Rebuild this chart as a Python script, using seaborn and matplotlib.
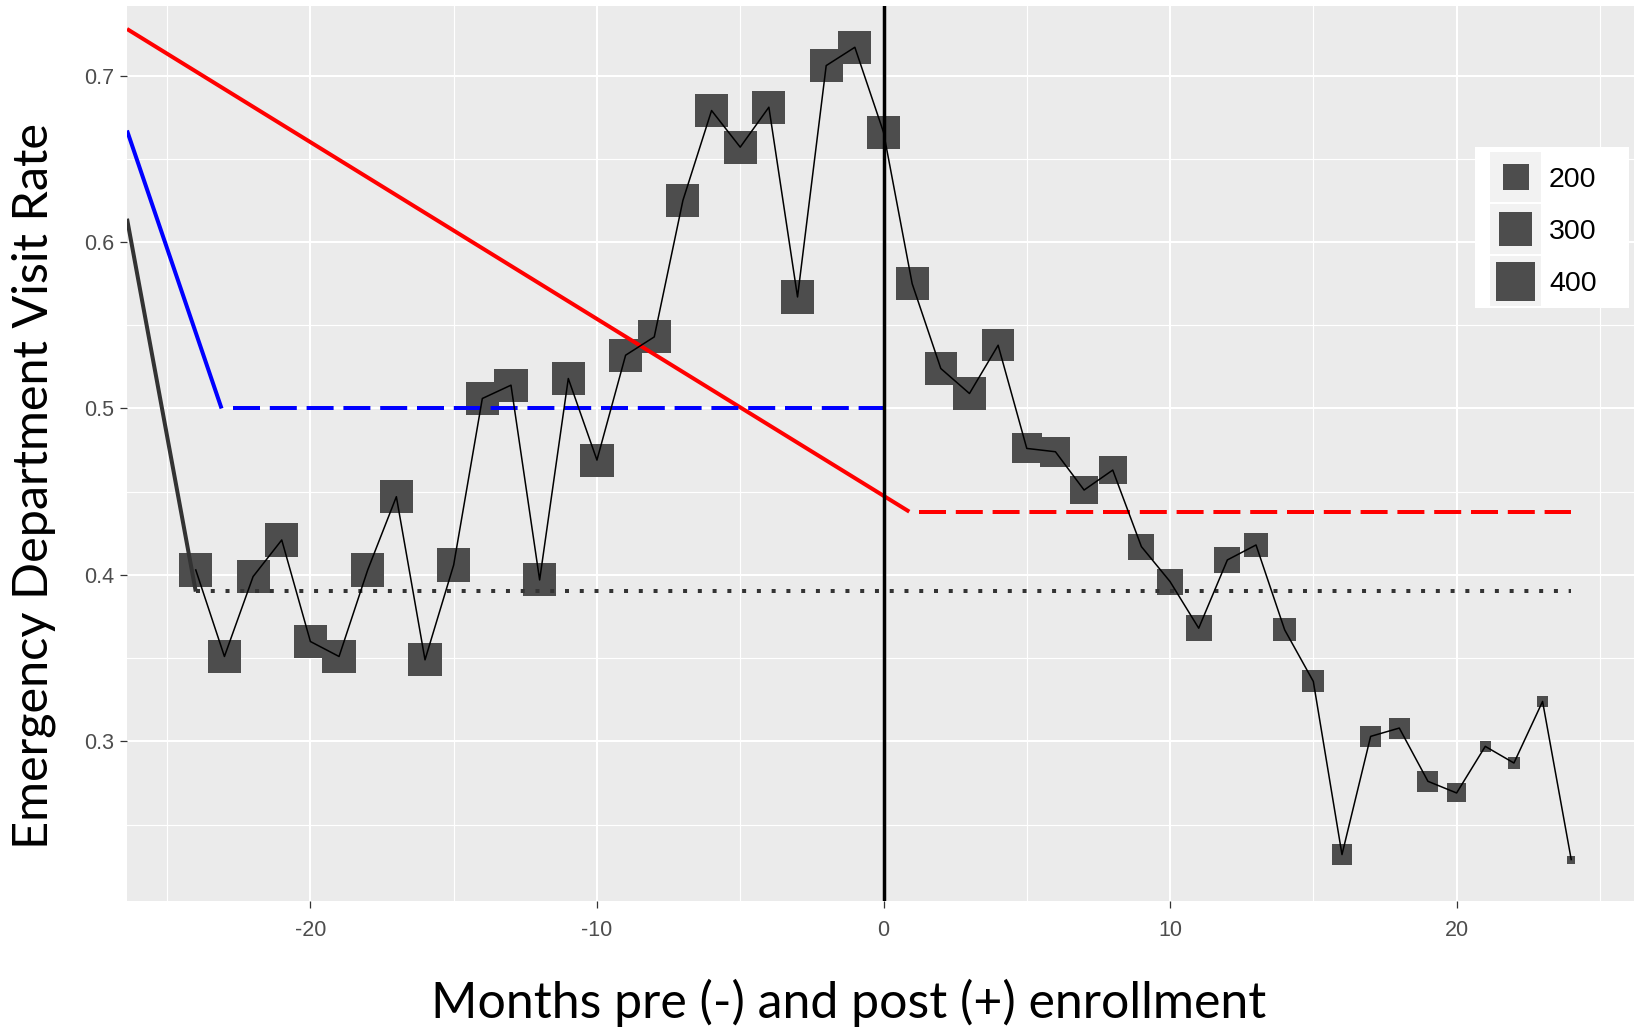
import matplotlib
matplotlib.use("Agg")
import matplotlib.pyplot as plt
import seaborn as sns
import pandas as pd
from matplotlib.patches import Rectangle
from matplotlib.ticker import MultipleLocator, FixedLocator

# ---------------- data ----------------
months = list(range(-24, 25))
visit_rate = [0.403, 0.351, 0.399, 0.421, 0.360, 0.351, 0.403, 0.447, 0.349, 0.406,
              0.506, 0.514, 0.397, 0.518, 0.469, 0.532, 0.543, 0.625, 0.679, 0.657,
              0.681, 0.567, 0.706, 0.717, 0.666, 0.575, 0.524, 0.509, 0.538, 0.476,
              0.474, 0.451, 0.463, 0.417, 0.396, 0.368, 0.409, 0.418, 0.367, 0.336,
              0.232, 0.303, 0.308, 0.276, 0.269, 0.297, 0.287, 0.324, 0.229]
patients = [300] * 26 + [285, 285, 282, 253, 253, 226, 226, 200, 200, 200, 200,
                         176, 165, 155, 144, 144, 144, 144, 125, 69, 74, 69, 55]
legend_sizes = [200, 300, 400]

x_ticks = [-20, -10, 0, 10, 20]
x_tick_labels = ["-20", "-10", "0", "10", "20"]
y_ticks = [0.3, 0.4, 0.5, 0.6, 0.7]
y_tick_labels = ["0.3", "0.4", "0.5", "0.6", "0.7"]

# reference / trend segments
red_pre_x, red_pre_y = [-26.4, 0.9], [0.728, 0.438]
red_post_x, red_post_y = [1.25, 24.0], [0.438, 0.438]
blue_pre_x, blue_pre_y = [-26.4, -23.1], [0.667, 0.500]
blue_post_x, blue_post_y = [-22.7, 0.0], [0.500, 0.500]
grey_pre_x, grey_pre_y = [-26.4, -24.0], [0.614, 0.390]
grey_post_x, grey_post_y = [-24.0, 24.0], [0.3905, 0.3905]
enroll_month = 0

x_label = "Months pre (-) and post (+) enrollment"
y_label = "Emergency Department Visit Rate"

df = pd.DataFrame({"month": months, "rate": visit_rate, "n": patients})

# ---------------- figure ----------------
W, H, DPI = 1634, 1030, 100
fig = plt.figure(figsize=(W / DPI, H / DPI), dpi=DPI)
fig.patch.set_facecolor("white")

L, R, T, B = 127, 1640, 6, 901
ax = fig.add_axes([L / W, (H - B) / H, (R - L) / W, (B - T) / H])
ax.set_facecolor("#EBEBEB")

# marker area (px^2) linear in patient count: 200 -> 26px side, 400 -> 39px side
px2pt2 = (72 / DPI) ** 2
n_lo, n_hi = 50, 400
slope = (39 ** 2 - 26 ** 2) / 200.0
area_lo = 26 ** 2 + (n_lo - 200) * slope
area_hi = 39 ** 2
size_range = (area_lo * px2pt2, area_hi * px2pt2)
size_norm = (n_lo, n_hi)

sns.scatterplot(data=df, x="month", y="rate", size="n", sizes=size_range,
                size_norm=size_norm, marker="s", color="#4D4D4D", linewidth=0,
                legend=False, ax=ax, zorder=3)

seg_kw = dict(solid_capstyle="butt", dash_capstyle="butt", zorder=4)
lw_thick = 4 * 72 / DPI
ax.plot(red_pre_x, red_pre_y, color="#FF0000", lw=lw_thick, **seg_kw)
ax.plot(red_post_x, red_post_y, color="#FF0000", lw=lw_thick,
        linestyle=(0, (6.75, 2.45)), **seg_kw)
ax.plot(blue_pre_x, blue_pre_y, color="#0000FF", lw=lw_thick, **seg_kw)
ax.plot(blue_post_x, blue_post_y, color="#0000FF", lw=lw_thick,
        linestyle=(0, (6.75, 2.45)), **seg_kw)
ax.plot(grey_pre_x, grey_pre_y, color="#333333", lw=lw_thick, **seg_kw)
ax.plot(grey_post_x, grey_post_y, color="#333333", lw=lw_thick,
        linestyle=(0, (1.0, 2.69)), **seg_kw)
ax.axvline(enroll_month, color="black", lw=2.5, zorder=5)

sns.lineplot(data=df, x="month", y="rate", color="black", lw=1.1, ax=ax,
             zorder=6, estimator=None, sort=True)

ax.set_xlim(-26.4, 26.4)
ax.set_ylim(0.2041, 0.7418)
ax.xaxis.set_major_locator(FixedLocator(x_ticks))
ax.set_xticklabels(x_tick_labels)
ax.yaxis.set_major_locator(FixedLocator(y_ticks))
ax.set_yticklabels(y_tick_labels)
ax.xaxis.set_minor_locator(MultipleLocator(5))
ax.yaxis.set_minor_locator(MultipleLocator(0.05))
ax.grid(which="major", color="white", lw=1.5, zorder=0)
ax.grid(which="minor", color="white", lw=0.8, zorder=0)
ax.set_axisbelow(True)
for s in ax.spines.values():
    s.set_visible(False)
ax.tick_params(which="major", length=5, width=0.9, color="#333333",
               labelsize=15.5, labelcolor="#4D4D4D")
ax.tick_params(axis="x", which="major", pad=9)
ax.tick_params(axis="y", which="major", pad=4)
ax.tick_params(which="minor", length=0)
for lab in ax.get_xticklabels() + ax.get_yticklabels():
    lab.set_fontfamily(["Liberation Sans", "DejaVu Sans"])

ax.set_xlabel(x_label, fontsize=36, family=["Lato", "DejaVu Sans"], color="black")
ax.set_ylabel(y_label, fontsize=35, family=["Lato", "DejaVu Sans"], color="black")
ax.xaxis.set_label_coords((849 - L) / (R - L), -(1003 - B) / (B - T))
ax.xaxis.label.set_va("center")
ax.yaxis.set_label_coords((34 - L) / (R - L), (B - 486) / (B - T))
ax.yaxis.label.set_va("center")

# ---------------- legend ----------------
lx0, lx1, ly0, ly1 = 1475, 1629, 147, 308
lax = fig.add_axes([lx0 / W, (H - ly1) / H, (lx1 - lx0) / W, (ly1 - ly0) / H])
lax.set_facecolor("white")
lax.set_xlim(0, lx1 - lx0)
lax.set_ylim(ly1 - ly0, 0)
for s in lax.spines.values():
    s.set_visible(False)
lax.set_xticks([])
lax.set_yticks([])
key_tops = [5, 57, 109]
key_h = 50
key_centers = [t + key_h / 2 for t in key_tops]
for t in key_tops:
    lax.add_patch(Rectangle((15, t), 51, key_h, facecolor="#F2F2F2",
                            edgecolor="none", zorder=1))
leg_df = pd.DataFrame({"x": [40.5] * 3, "y": key_centers, "n": legend_sizes})
sns.scatterplot(data=leg_df, x="x", y="y", size="n", sizes=size_range,
                size_norm=size_norm, marker="s", color="#4D4D4D", linewidth=0,
                legend=False, ax=lax, zorder=2)
lax.set_xlabel("")
lax.set_ylabel("")
for yc, val in zip(key_centers, legend_sizes):
    lax.text(74, yc + 3, str(val), fontsize=20.5, va="center", ha="left",
             family=["Liberation Sans", "DejaVu Sans"], color="black")

fig.savefig("out.png", dpi=DPI)
